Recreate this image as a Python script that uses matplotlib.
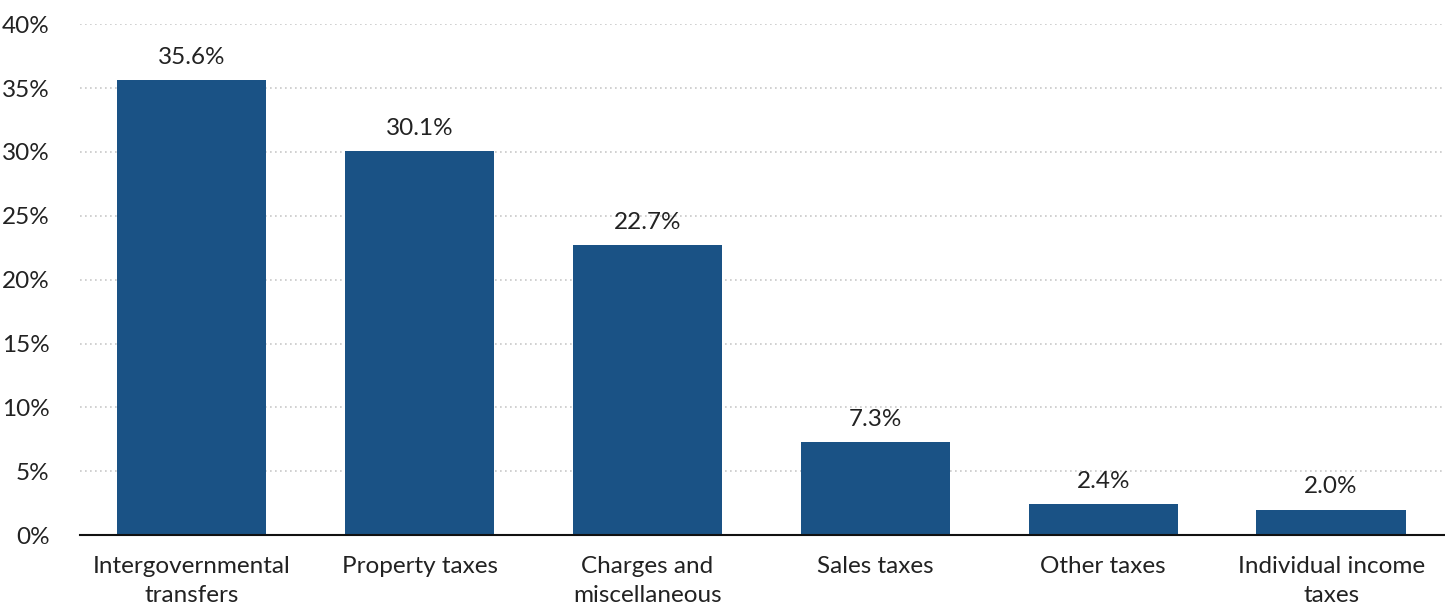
import matplotlib
matplotlib.use("Agg")
import matplotlib.pyplot as plt
from matplotlib.ticker import FuncFormatter

categories = ["Intergovernmental\ntransfers", "Property taxes", "Charges and\nmiscellaneous",
              "Sales taxes", "Other taxes", "Individual income\ntaxes"]
values = [35.6, 30.1, 22.7, 7.3, 2.4, 2.0]
yticks = [0, 5, 10, 15, 20, 25, 30, 35, 40]

plt.rcParams['font.family'] = ['Lato', 'DejaVu Sans']

fig = plt.figure(figsize=(14.45, 6.06), dpi=100)
ax = fig.add_axes([0.0554, 0.117, 0.9446, 0.843])
x = list(range(len(categories)))
ax.bar(x, values, width=0.655, color="#1a5285", zorder=3)
for xi, v in zip(x, values):
    ax.text(xi, v + 0.95, f"{v:.1f}%", ha="center", va="bottom", fontsize=17.5, color="#222222")

ax.set_xlim(-0.49, 5.5)
ax.set_ylim(0, 40)
ax.set_yticks(yticks)
ax.yaxis.set_major_formatter(FuncFormatter(lambda v, p: f"{v:.0f}%"))
ax.grid(axis="y", linestyle=(0, (1, 2)), color="#c8c8c8", linewidth=1.2, zorder=0)
ax.set_xticks(x)
ax.set_xticklabels(categories, fontsize=17.5, color="#222222", linespacing=1.45)
ax.tick_params(axis="y", labelsize=17.5, colors="#222222", length=0, pad=22)
ax.tick_params(axis="x", length=0, pad=15)
for s in ["top", "right", "left"]:
    ax.spines[s].set_visible(False)
ax.spines["bottom"].set_color("#111111")
ax.spines["bottom"].set_linewidth(1.5)
ax.spines["bottom"].set_zorder(4)
fig.savefig("out.png", dpi=100)
